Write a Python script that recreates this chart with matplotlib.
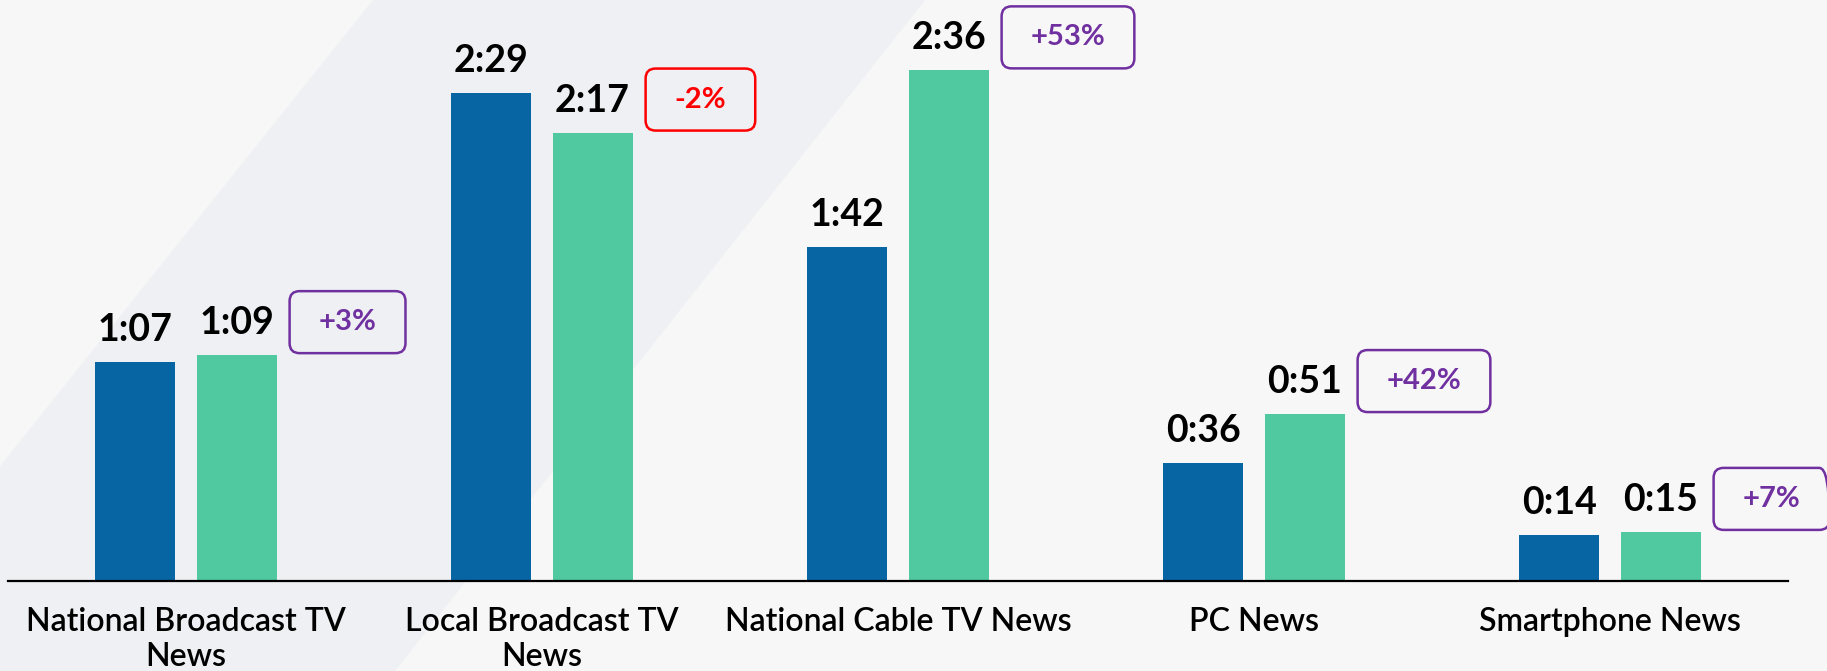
import numpy as np
import matplotlib
matplotlib.use("Agg")
import matplotlib.pyplot as plt
from matplotlib.patches import Polygon, FancyBboxPatch
from matplotlib.transforms import IdentityTransform

# data (minutes:seconds)
categories = ["National Broadcast TV\nNews", "Local Broadcast TV\nNews",
              "National Cable TV News", "PC News", "Smartphone News"]
prev_labels = ["1:07", "2:29", "1:42", "0:36", "0:14"]
curr_labels = ["1:09", "2:17", "2:36", "0:51", "0:15"]
pct_labels = ["+3%", "-2%", "+53%", "+42%", "+7%"]


def to_seconds(s):
    m, sec = s.split(":")
    return int(m) * 60 + int(sec)


prev_vals = np.array([to_seconds(s) for s in prev_labels])
curr_vals = np.array([to_seconds(s) for s in curr_labels])

blue = "#0865A3"
green = "#50C9A0"
purple = "#7030A0"
red = "#FF0000"
font = ["Lato", "DejaVu Sans"]

fig = plt.figure(figsize=(18.27, 6.71), dpi=100, facecolor="#F7F7F7")

# faint diagonal band in the background
W, H = 1827.0, 671.0
band = [(373, 0), (925, 0), (925 - 0.79 * H, H), (373 - 0.8 * H, H)]
band = [(x / W, 1 - y / H) for x, y in band]
fig.patches.append(Polygon(band, closed=True, transform=fig.transFigure,
                           facecolor="#EEF0F3", edgecolor="none", zorder=-10))

ax = fig.add_axes([8 / W, 1 - 581 / H, (1788 - 8) / W, 581 / H])
ax.set_facecolor("none")
ax.set_zorder(1)

x = np.arange(len(categories))
bw = 0.225
off = 0.142
ax.bar(x - off, prev_vals, bw, color=blue, zorder=2)
ax.bar(x + off, curr_vals, bw, color=green, zorder=2)

ax.set_xlim(-0.5, 4.5)
ax.set_ylim(0, 177.5)

for i in range(len(x)):
    ax.annotate(prev_labels[i], (x[i] - off, prev_vals[i]), xytext=(0, 21),
                textcoords="offset pixels", ha="center", va="baseline",
                fontsize=27, fontweight="bold", family=font, color="black")
    ax.annotate(curr_labels[i], (x[i] + off, curr_vals[i]), xytext=(0, 21),
                textcoords="offset pixels", ha="center", va="baseline",
                fontsize=27, fontweight="bold", family=font, color="black")

pct_texts = []
for i in range(len(x)):
    c = red if pct_labels[i].startswith("-") else purple
    t = ax.annotate(pct_labels[i], (x[i] + off + bw / 2, curr_vals[i]),
                    xytext=(13 + 29, 33), textcoords="offset pixels",
                    ha="left", va="center", fontsize=21, fontweight="bold",
                    family=font, color=c)
    pct_texts.append((t, c))

ax.set_xticks(x)
ax.set_xticklabels(categories, fontsize=23, fontweight="semibold",
                   family=font, linespacing=1.2)
ax.tick_params(axis="x", length=0, pad=19)
ax.set_yticks([])
for s in ["top", "left", "right"]:
    ax.spines[s].set_visible(False)
ax.spines["bottom"].set_linewidth(1.6)
ax.spines["bottom"].set_color("black")

# rounded boxes round the change labels
fig.canvas.draw()
r = fig.canvas.get_renderer()
for t, c in pct_texts:
    bb = t.get_window_extent(r)
    cy = (bb.y0 + bb.y1) / 2
    box = FancyBboxPatch((bb.x0 - 29, cy - 31), bb.width + 58, 62,
                         boxstyle="round,pad=0,rounding_size=10",
                         transform=IdentityTransform(), facecolor="none",
                         edgecolor=c, linewidth=1.8, zorder=5)
    fig.patches.append(box)

fig.savefig("out.png", dpi=100, facecolor=fig.get_facecolor())
